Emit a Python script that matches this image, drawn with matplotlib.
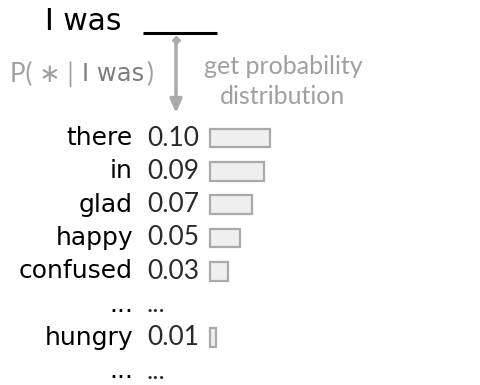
import matplotlib
matplotlib.use("Agg")
import matplotlib.pyplot as plt
import matplotlib.transforms as mtransforms

# Data
words = ["there", "in", "glad", "happy", "confused", "...", "hungry", "..."]
probs = [0.10, 0.09, 0.07, 0.05, 0.03, None, 0.01, None]
prob_labels = ["0.10", "0.09", "0.07", "0.05", "0.03", "...", "0.01", "..."]
context = "I was"

W, H = 481, 385
fig = plt.figure(figsize=(W / 100, H / 100), dpi=100)
fig.patch.set_facecolor("white")

ax = fig.add_axes([0, 0, 1, 1])
ax.set_xlim(0, W)
ax.set_ylim(H, 0)
ax.axis("off")

row0_px, row_step = 138, 33.3
ylo = (H - row0_px) / row_step
yhi = -row0_px / row_step
bar_left_px, px_per_unit = 210, 600
axb = fig.add_axes([bar_left_px / W, 0, (0.1 * px_per_unit) / W, 1])
axb.set_xlim(0, 0.1)
axb.set_ylim(ylo, yhi)
axb.axis("off")

rows = list(range(len(words)))
bx = [r for r, p in zip(rows, probs) if p is not None]
bv = [p for p in probs if p is not None]
axb.barh(bx, bv, height=0.56, left=0, color="#efefef", edgecolor="#aaaaaa",
         linewidth=1.6, clip_on=False)

tr = mtransforms.blended_transform_factory(ax.transData, axb.transData)
word_font = ["DejaVu Sans"]
num_font = ["Lato", "DejaVu Sans"]
for r, w, lab in zip(rows, words, prob_labels):
    ax.text(133, r, w, transform=tr, ha="right", va="center", fontsize=18,
            family=word_font, color="black")
    ax.text(147, r, lab, transform=tr, ha="left", va="center", fontsize=19,
            family=num_font, color="#2a2a2a")

# header
ax.text(45, 22, context, ha="left", va="center", fontsize=21.5,
        family=word_font, color="black")
ax.plot([143, 217], [33, 33], color="black", lw=2.2, solid_capstyle="butt")

# arrow
ax.annotate("", xy=(176, 113), xytext=(176, 39),
            arrowprops=dict(arrowstyle="-|>,head_length=0.8,head_width=0.35",
                            color="#aaaaaa", lw=2.5, shrinkA=0, shrinkB=0))
ax.plot([176], [40], marker="D", ms=4, color="#aaaaaa")

gray = "#a0a0a0"
fig.canvas.draw()
renderer = fig.canvas.get_renderer()
x = 10
parts = [("P( \u2217 | ", num_font, 18.5, gray, "normal"),
         (context, word_font, 17.5, "#7e7e7e", "normal"),
         (")", num_font, 18.5, gray, "normal")]
for s, fam, fs, col, wt in parts:
    t = ax.text(x, 74, s, ha="left", va="center", fontsize=fs, family=fam,
                color=col, fontweight=wt)
    bb = t.get_window_extent(renderer)
    x += bb.width + 2

ax.text(283, 67, "get probability", ha="center", va="center", fontsize=18,
        family=num_font, color=gray)
ax.text(283, 96, "distribution", ha="center", va="center", fontsize=18,
        family=num_font, color=gray)

fig.savefig("out.png", dpi=100, facecolor="white")
